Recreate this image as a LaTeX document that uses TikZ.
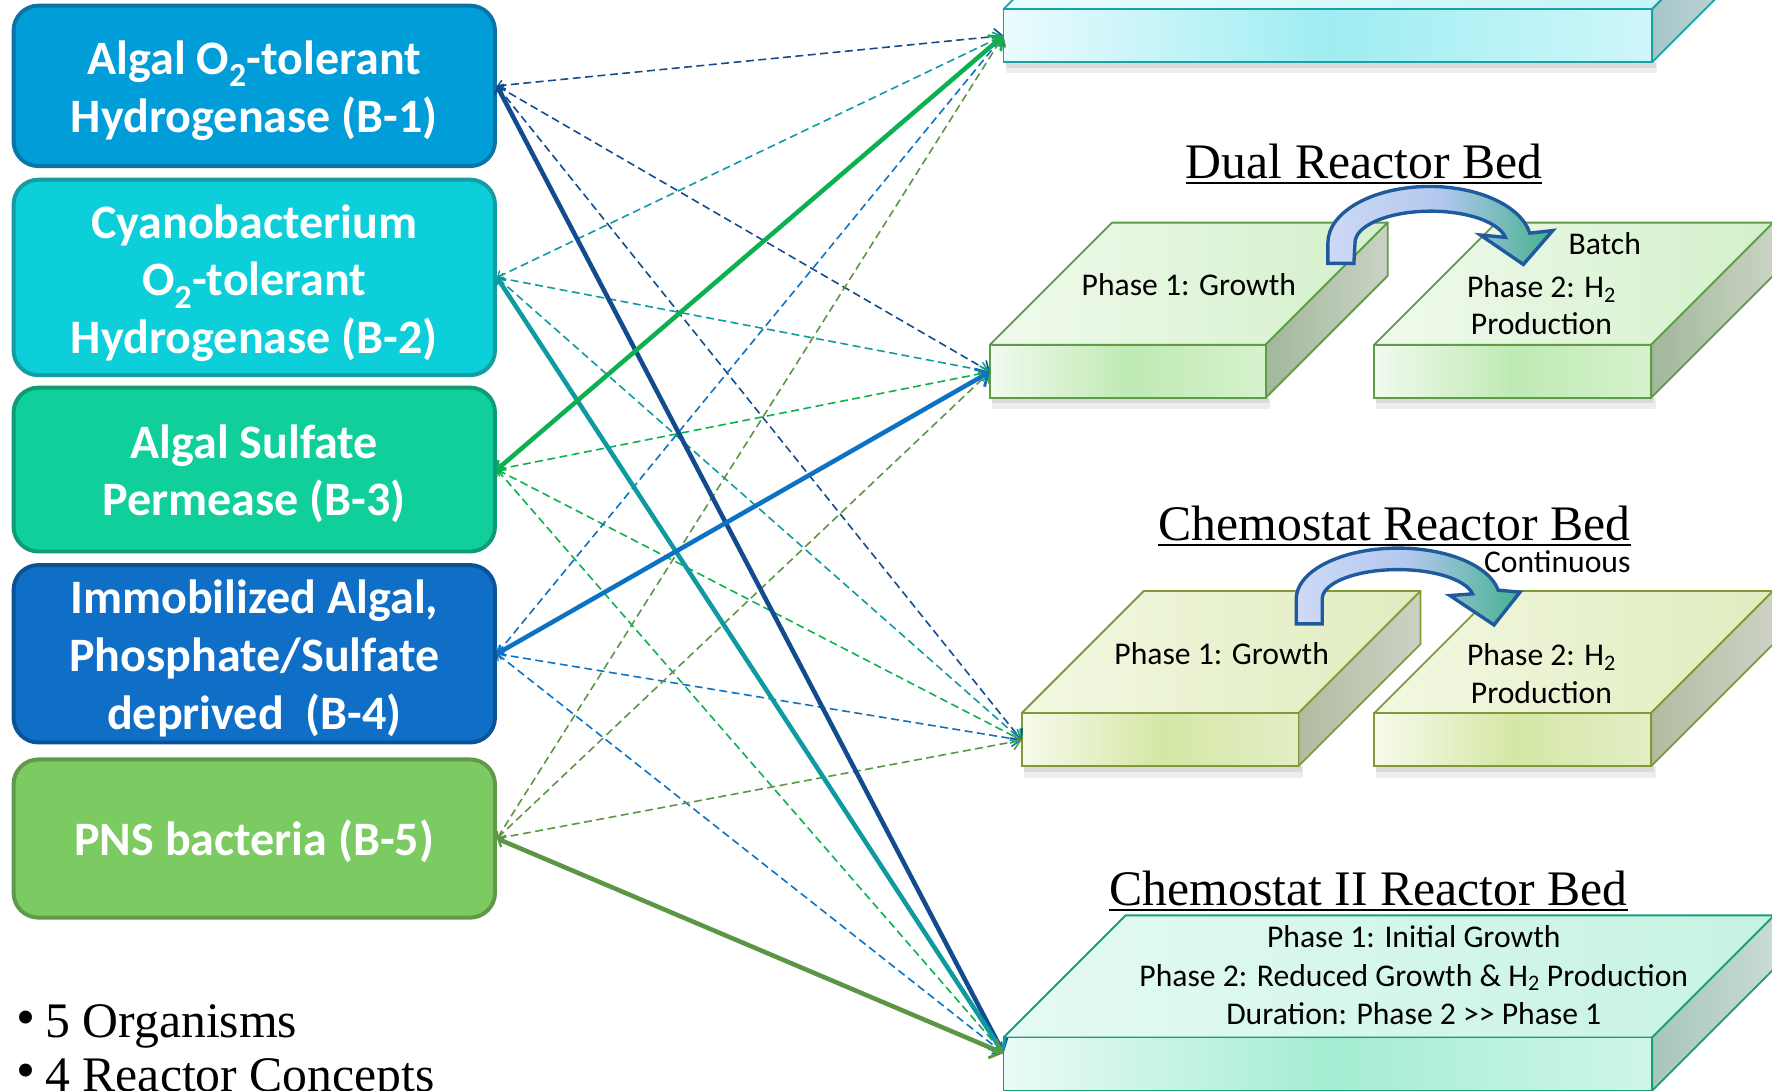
\documentclass[tikz,border=0pt]{standalone}
\usepackage{fontspec}
\setmainfont{Carlito}
\newfontfamily\hfont{Liberation Serif}
\usetikzlibrary{arrows.meta,calc}
% organism boxes
\definecolor{c1}{HTML}{009DD9}\definecolor{c1d}{HTML}{0B74A6}
\definecolor{c2}{HTML}{0CCFDA}\definecolor{c2d}{HTML}{119DA2}
\definecolor{c3}{HTML}{10CF9B}\definecolor{c3d}{HTML}{0E9C77}
\definecolor{c4}{HTML}{0F6FC6}\definecolor{c4d}{HTML}{0C5296}
\definecolor{c5}{HTML}{7CCA62}\definecolor{c5d}{HTML}{5E9A48}
% connector colours
\definecolor{l1}{HTML}{124B8E}\definecolor{l2}{HTML}{0E9AA0}
\definecolor{l3}{HTML}{0DB04E}\definecolor{l4}{HTML}{0B72C4}
\definecolor{l5}{HTML}{5A9644}
% reactor colours
\definecolor{cyl}{HTML}{17A3A6}\definecolor{cyfa}{HTML}{EAFBFD}\definecolor{cyfb}{HTML}{9EEDF2}\definecolor{cyfc}{HTML}{CFF7FA}
\definecolor{cyta}{HTML}{E8FCFE}\definecolor{cytb}{HTML}{BFF3F7}\definecolor{cysa}{HTML}{A6C6C9}\definecolor{cysb}{HTML}{C8DCDE}
\definecolor{grl}{HTML}{5E9C48}\definecolor{grfa}{HTML}{F1FAEE}\definecolor{grfb}{HTML}{BFEAB3}\definecolor{grfc}{HTML}{D5F2CD}
\definecolor{grta}{HTML}{F0FAED}\definecolor{grtb}{HTML}{D3F0CA}\definecolor{grsa}{HTML}{A2B79B}\definecolor{grsb}{HTML}{C9D3C4}
\definecolor{ygl}{HTML}{7F9B36}\definecolor{ygfa}{HTML}{F7FAEB}\definecolor{ygfb}{HTML}{D5E7A6}\definecolor{ygfc}{HTML}{E2EEC4}
\definecolor{ygta}{HTML}{F3F8E2}\definecolor{ygtb}{HTML}{E0ECBE}\definecolor{ygsa}{HTML}{B3BBA2}\definecolor{ygsb}{HTML}{CDD2C4}
\definecolor{mtl}{HTML}{159E7C}\definecolor{mtfa}{HTML}{EAFBF5}\definecolor{mtfb}{HTML}{A4EDD2}\definecolor{mtfc}{HTML}{CFF6E7}
\definecolor{mtta}{HTML}{E4FAF3}\definecolor{mttb}{HTML}{C6F3E2}\definecolor{mtsa}{HTML}{A6C6BB}\definecolor{mtsb}{HTML}{C8DBD5}
% curved arrow
\definecolor{arl}{HTML}{1F5A9E}\definecolor{ara}{HTML}{CED9F6}\definecolor{arb}{HTML}{45B18F}\definecolor{arm}{HTML}{B2C8EE}

\newcommand\tup[1]{\rule{0pt}{#1}}
\tikzset{
  orgbox/.style={rounded corners=22pt, line width=3.5pt, minimum width=426pt,
    text=white, align=center, font=\fontsize{42.5}{51}\selectfont\bfseries, inner sep=0pt},
  heading/.style={font=\hfont\fontsize{44}{50}\selectfont, inner sep=0pt},
  small/.style={font=\fontsize{28}{33}\selectfont, align=center, inner sep=0pt},
  bulletmark/.style={font=\hfont\fontsize{48}{48}\selectfont, inner sep=0pt, anchor=base},
  dasharr/.style={line width=1.4pt, dash pattern=on 7pt off 4pt,
    {Straight Barb[length=4pt,width=9pt,line width=1.2pt]}-{Straight Barb[length=7pt,width=14pt,line width=1.4pt]}},
  solidarr/.style={line width=4pt,
    {Straight Barb[length=5pt,width=11pt,line width=2pt]}-{Straight Barb[length=9pt,width=18pt,line width=2.5pt]}},
  curvarr/.style={draw=arl, line width=3pt, left color=ara, right color=arb, middle color=arm}
}
% #1 x-left, #2 x-right, #3 y of front top, #4 front height, #5 depth, #6 colour prefix
\newcommand\slab[6]{%
  \fill[black,opacity=.07] ({#1+2},{#3+#4}) rectangle ({#2+4},{#3+#4+10});
  \fill[black,opacity=.08] ({#1+2},{#3+#4}) rectangle ({#2+3},{#3+#4+5});
  \path[left color=#6ta, right color=#6tb, draw=#6l, line width=1.6pt, line join=round]
    (#1,#3) -- ({#1+#5},{#3-#5}) -- ({#2+#5},{#3-#5}) -- (#2,#3) -- cycle;
  \path[left color=#6sa, right color=#6sb, draw=#6l, line width=1.6pt, line join=round]
    (#2,#3) -- ({#2+#5},{#3-#5}) -- ({#2+#5},{#3-#5+#4}) -- (#2,{#3+#4}) -- cycle;
  \path[left color=#6fa, right color=#6fc, middle color=#6fb, draw=#6l, line width=1.6pt]
    (#1,#3) rectangle (#2,{#3+#4});
}

\begin{document}
\begin{tikzpicture}[x=1pt,y=-1pt]
\useasboundingbox (0,0) rectangle (1568,965);
\clip (0,0) rectangle (1568,965);
\fill[white] (0,0) rectangle (1568,965);

% reactors
\slab{888}{1462}{8}{47}{108}{cy}
\slab{876}{1120}{305}{47}{108}{gr}
\slab{1216}{1461}{305}{47}{108}{gr}
\slab{904}{1149}{631}{47}{108}{yg}
\slab{1216}{1461}{631}{47}{108}{yg}
\slab{888}{1462}{918}{47}{108}{mt}

% curved arrows
\path[curvarr] (1175,233) -- (1175,215)
  arc[start angle=180, end angle=350, x radius=90, y radius=50]
  -- (1374,204) -- (1348,234) -- (1310,208) -- (1332,210)
  arc[start angle=350, end angle=180, x radius=67, y radius=28]
  -- (1198,233) -- cycle;
\path[curvarr] (1147,552) -- (1147,530)
  arc[start angle=180, end angle=350, x radius=90, y radius=45]
  -- (1345,524) -- (1322,553) -- (1283,527) -- (1303,525.5)
  arc[start angle=350, end angle=180, x radius=67, y radius=26]
  -- (1170,552) -- cycle;

% headings
\node[heading, anchor=base] (h1) at (1207,158) {Dual Reactor Bed};
\draw[line width=1.6pt] ($(h1.base west)+(0,4)$) -- ($(h1.base east)+(0,4)$);
\node[heading, anchor=base] (h2) at (1234,478) {Chemostat Reactor Bed};
\draw[line width=1.6pt] ($(h2.base west)+(0,4)$) -- ($(h2.base east)+(0,4)$);
\node[heading, anchor=base] (h3) at (1211,801) {Chemostat II Reactor Bed};
\draw[line width=1.6pt] ($(h3.base west)+(0,4)$) -- ($(h3.base east)+(0,4)$);

% reactor texts
\node[small] (t1) at (1052,252) {Phase 1: Growth};
\node[small] (t2) at (1420,216) {Batch};
\node[small] (t3) at (1364,270) {Phase 2: H\textsubscript{2}\\Production};
\node[small] (t4) at (1081,578) {Phase 1: Growth};
\node[small] (t5) at (1378,497) {Continuous};
\node[small] (t6) at (1364,596) {Phase 2: H\textsubscript{2}\\Production};
\node[small, font=\fontsize{28}{34}\selectfont] (t7) at (1251,863)
  {Phase 1: Initial Growth\\Phase 2: Reduced Growth \& H\textsubscript{2} Production\\Duration: Phase 2 \mbox{>}\mbox{>} Phase 1};

% organism boxes
\node[orgbox, fill=c1, draw=c1d, minimum height=142pt] (b1) at (225,76)
  {\tup{38pt}Algal O\textsubscript{2}-tolerant\\Hydrogenase (B-1)};
\node[orgbox, fill=c2, draw=c2d, minimum height=173pt] (b2) at (225,245.5)
  {\tup{40pt}Cyanobacterium\\O\textsubscript{2}-tolerant\\Hydrogenase (B-2)};
\node[orgbox, fill=c3, draw=c3d, minimum height=145pt] (b3) at (225,415.5)
  {\tup{37pt}Algal Sulfate\\Permease (B-3)};
\node[orgbox, fill=c4, draw=c4d, minimum height=157pt] (b4) at (225,578.5)
  {\tup{38pt}Immobilized Algal,\\Phosphate/Sulfate\\deprived\ \ (B-4)};
\node[orgbox, fill=c5, draw=c5d, minimum height=140pt] (b5) at (225,742)
  {\tup{36pt}PNS bacteria (B-5)};

% reactor entry points
\coordinate (r1) at (888,31.5);
\coordinate (r2) at (876,329);
\coordinate (r3) at (904,655);
\coordinate (r4) at (888,932);

% connectors
\foreach \s/\t/\c in {b1/r1/l1, b1/r2/l1, b1/r3/l1,
                      b2/r1/l2, b2/r2/l2, b2/r3/l2,
                      b3/r2/l3, b3/r3/l3, b3/r4/l3,
                      b4/r1/l4, b4/r3/l4, b4/r4/l4,
                      b5/r1/l5, b5/r2/l5, b5/r3/l5}
  \draw[dasharr, \c] (\s.east) -- (\t);
\foreach \s/\t/\c in {b1/r4/l1, b2/r4/l2, b3/r1/l3, b4/r2/l4, b5/r4/l5}
  \draw[solidarr, \c] (\s.east) -- (\t);

% bullets
\node[bulletmark] (bu1) at (23,916) {\textbullet};
\node[heading, anchor=base west] (o1) at (40,918) {5 Organisms};
\node[bulletmark] (bu2) at (23,963) {\textbullet};
\node[heading, anchor=base west] (o2) at (40,966) {4 Reactor Concepts};
\end{tikzpicture}
\end{document}
